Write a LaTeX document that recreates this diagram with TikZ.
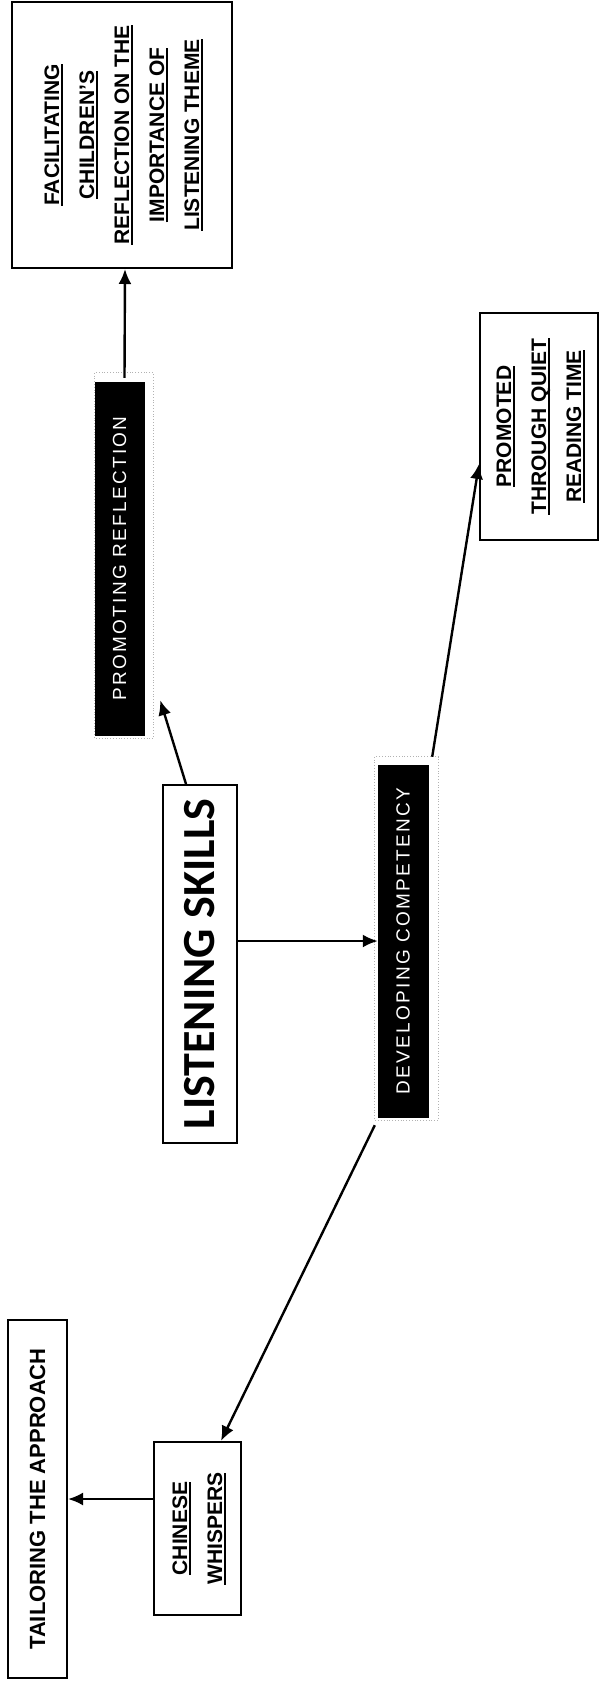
\documentclass[tikz,border=0pt]{standalone}
\usepackage{fontspec}
\setmainfont{Liberation Sans}
\newfontfamily\bigfont{Carlito}
\newfontfamily\spacedfont[LetterSpace=12]{Liberation Sans}
\usetikzlibrary{arrows.meta,calc}
\newcommand\ulin[1]{\setbox0\hbox{#1}\rlap{\rule[-4pt]{\wd0}{1.8pt}}\box0}
\tikzset{
  box/.style={draw, line width=2pt, inner sep=0pt, align=center,
    font=\fontsize{21}{35}\selectfont\bfseries},
  blackbox/.style={fill=black, draw=black, inner sep=0pt, text=white,
    font=\spacedfont\fontsize{19}{21}\selectfont},
  arr/.style={line width=2.4pt, -{Latex[length=15pt,width=13pt]}},
  shadowline/.style={gray!60, dotted, line width=0.8pt}
}
\begin{document}
\begin{tikzpicture}[x=1pt,y=-1pt]
\useasboundingbox (0,0) rectangle (600,1684);
% boxes
\node[box, minimum width=220pt, minimum height=266pt] (fac) at (122,135)
  {\rotatebox{90}{\begin{tabular}{@{}c@{}}\ulin{FACILITATING}\\ \ulin{CHILDREN’S}\\ \ulin{REFLECTION ON THE}\\ \ulin{IMPORTANCE OF}\\ \ulin{LISTENING THEME}\end{tabular}}};
\node[blackbox, minimum width=49pt, minimum height=353pt] (prom) at (119.5,558.5)
  {\rotatebox{90}{PROMOTING REFLECTION}};
\node[box, minimum width=74pt, minimum height=358pt] (listen) at (200,964)
  {\rotatebox{90}{\bigfont\bfseries\fontsize{46}{48}\selectfont LISTENING SKILLS}};
\node[blackbox, minimum width=50pt, minimum height=352pt] (dev) at (403,941)
  {\rotatebox{90}{DEVELOPING COMPETENCY}};
\node[box, minimum width=118pt, minimum height=227pt] (promo) at (539,426.5)
  {\rotatebox{90}{\begin{tabular}{@{}c@{}}\ulin{PROMOTED}\\ \ulin{THROUGH QUIET}\\ \ulin{READING TIME}\end{tabular}}};
\node[box, minimum width=87pt, minimum height=173pt] (chin) at (197.5,1528.5)
  {\rotatebox{90}{\begin{tabular}{@{}c@{}}\ulin{CHINESE}\\ \ulin{WHISPERS}\end{tabular}}};
\node[box, minimum width=59pt, minimum height=358pt, font=\fontsize{22}{26}\selectfont\bfseries] (tail) at (37.5,1499)
  {\rotatebox{90}{TAILORING THE APPROACH}};
% shadow outlines of the black boxes
\draw[shadowline] ($(prom.north west)+(0,-9)$) rectangle ($(prom.south east)+(9,3)$);
\draw[shadowline] ($(dev.north west)+(-3,-8)$) rectangle ($(dev.south east)+(10,3)$);
% connector end points
\coordinate (pr-in) at ($(prom.south east)+(16,-35)$);
\coordinate (ls-out) at ($(listen.north west)+(24,0)$);
\coordinate (dev-ne) at ($(dev.north east)+(4,-8)$);
\coordinate (promo-in) at ($(promo.south west)+(0,-77)$);
\coordinate (dev-sw) at ($(dev.south west)+(-3,8)$);
\coordinate (chin-in) at ($(chin.north east)+(-21,0)$);
% connectors
\draw[arr] ($(prom.north)+(5,-4)$) -- ($(fac.south)+(3,0)$);
\draw[arr] (ls-out) -- (pr-in);
\draw[arr] (listen.east |- dev.west) -- (dev.west);
\draw[arr] (dev-ne) -- (promo-in);
\draw[arr] (dev-sw) -- (chin-in);
\draw[arr] (chin.west |- tail.east) -- (tail.east);
\end{tikzpicture}
\end{document}
